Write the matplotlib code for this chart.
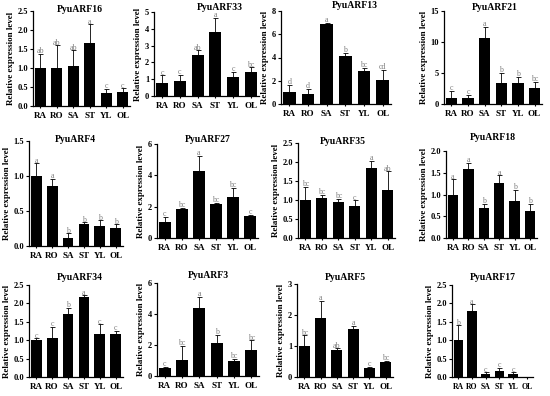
import matplotlib
matplotlib.use("Agg")
import matplotlib.pyplot as plt
import numpy as np

plt.rcParams['font.family'] = ['Liberation Serif', 'DejaVu Serif']
plt.rcParams['font.weight'] = 'bold'

tissues = ["RA", "RO", "SA", "ST", "YL", "OL"]

genes = ["PyuARF16", "PyuARF33", "PyuARF13", "PyuARF21",
         "PyuARF4", "PyuARF27", "PyuARF35", "PyuARF18",
         "PyuARF34", "PyuARF3", "PyuARF5", "PyuARF17"]

arf16 = [1.0, 1.0, 1.05, 1.65, 0.35, 0.37]
arf16_err = [0.37, 0.6, 0.42, 0.5, 0.1, 0.1]
arf16_let = ["ab", "ab", "ab", "a", "c", "c"]

arf33 = [0.78, 0.92, 2.47, 3.78, 1.15, 1.45]
arf33_err = [0.45, 0.35, 0.25, 0.85, 0.3, 0.25]
arf33_let = ["c", "c", "ab", "a", "c", "bc"]

arf13 = [1.0, 0.9, 6.9, 4.1, 2.8, 2.1]
arf13_err = [0.65, 0.4, 0.1, 0.3, 0.3, 0.85]
arf13_let = ["d", "d", "a", "b", "bc", "cd"]

arf21 = [1.0, 1.0, 10.7, 3.4, 3.4, 2.6]
arf21_err = [1.1, 0.5, 1.8, 1.6, 1.0, 1.0]
arf21_let = ["c", "c", "a", "b", "b", "bc"]

arf4 = [1.0, 0.86, 0.11, 0.31, 0.29, 0.26]
arf4_err = [0.18, 0.1, 0.07, 0.03, 0.08, 0.05]
arf4_let = ["a", "a", "b", "b", "b", "b"]

arf27 = [1.0, 1.88, 4.25, 2.2, 2.6, 1.42]
arf27_err = [0.35, 0.05, 1.0, 0.05, 0.6, 0.05]
arf27_let = ["c", "bc", "a", "bc", "bc", "c"]

arf35 = [1.0, 1.06, 0.96, 0.84, 1.83, 1.26]
arf35_err = [0.35, 0.07, 0.07, 0.15, 0.2, 0.5]
arf35_let = ["bc", "bc", "bc", "c", "a", "ab"]

arf18 = [1.0, 1.58, 0.69, 1.26, 0.85, 0.63]
arf18_err = [0.35, 0.15, 0.1, 0.18, 0.25, 0.15]
arf18_let = ["a", "a", "b", "a", "b", "b"]

arf34 = [1.0, 1.07, 1.7, 2.17, 1.18, 1.16]
arf34_err = [0.05, 0.3, 0.18, 0.05, 0.25, 0.1]
arf34_let = ["c", "c", "b", "a", "c", "c"]

arf3 = [0.5, 1.05, 4.4, 2.15, 1.0, 1.7]
arf3_err = [0.1, 0.9, 0.7, 0.5, 0.1, 0.6]
arf3_let = ["c", "bc", "a", "b", "bc", "bc"]

arf5 = [1.0, 1.9, 0.87, 1.55, 0.28, 0.48]
arf5_err = [0.35, 0.55, 0.05, 0.1, 0.05, 0.05]
arf5_let = ["bc", "a", "ab", "a", "c", "bc"]

arf17 = [1.0, 1.78, 0.08, 0.17, 0.08, 0.0]
arf17_err = [0.4, 0.2, 0.05, 0.08, 0.05, 0.0]
arf17_let = ["b", "a", "c", "c", "c", ""]

values = [arf16, arf33, arf13, arf21, arf4, arf27, arf35, arf18, arf34, arf3, arf5, arf17]
errors = [arf16_err, arf33_err, arf13_err, arf21_err, arf4_err, arf27_err,
          arf35_err, arf18_err, arf34_err, arf3_err, arf5_err, arf17_err]
letters = [arf16_let, arf33_let, arf13_let, arf21_let, arf4_let, arf27_let,
           arf35_let, arf18_let, arf34_let, arf3_let, arf5_let, arf17_let]

ymax = [2.5, 5, 8, 15, 1.5, 6, 2.5, 2.0, 2.5, 6, 3, 2.5]
ystep = [0.5, 1, 2, 5, 0.5, 2, 0.5, 0.5, 0.5, 2, 1, 0.5]
decimals = [1, 0, 0, 0, 1, 0, 1, 1, 1, 0, 0, 1]

# pixel boxes: (left, y_of_zero, right, y_of_top)
boxes = [(33, 106, 130, 11), (154, 96, 259, 12), (281, 104, 391, 11), (444, 104, 542, 11),
         (29, 246, 123, 141), (157, 238, 258, 144), (298, 238, 395, 143), (446, 238, 537, 151),
         (29, 377, 123, 285), (157, 376, 259, 283), (297, 377, 393, 284), (452, 377, 533, 285)]
title_pos = [(80, 9), (220, 7), (355, 6), (495, 7),
             (75, 139), (208, 139), (343, 142), (493, 138),
             (80, 278), (208, 276), (345, 277), (493, 278)]

W, H = 550, 396
fig = plt.figure(figsize=(W / 100, H / 100), dpi=100)
x = np.arange(len(tissues))

for i in range(12):
    l, y0, r, yt = boxes[i]
    ax = fig.add_axes([l / W, 1 - y0 / H, (r - l) / W, (y0 - yt) / H])
    ax.bar(x, values[i], width=0.68, color="black", zorder=2)
    ax.errorbar(x, values[i], yerr=[np.zeros(6), errors[i]], fmt="none",
                ecolor="black", elinewidth=0.6, capsize=1.8, capthick=0.6, zorder=3)
    for xi, v, e, t in zip(x, values[i], errors[i], letters[i]):
        if t:
            ax.text(xi, v + e - ymax[i] * 0.015, t, ha="center", va="bottom",
                    fontsize=5.8, color="#808080", fontweight="normal", zorder=4)
    ax.set_xlim(-0.45, 5.45)
    ax.set_ylim(0, ymax[i])
    ticks = np.arange(0, ymax[i] + 1e-9, ystep[i])
    ax.set_yticks(ticks)
    ax.set_yticklabels([f"{t:.{decimals[i]}f}" for t in ticks], fontsize=6, fontweight="bold")
    ax.set_xticks(x)
    ax.set_xticklabels(tissues, fontsize=6.5 if i != 11 else 5.6, fontweight="bold")
    ax.tick_params(axis="y", length=2.5, width=0.8, pad=1)
    ax.tick_params(axis="x", length=1.5, width=0.8, pad=2.5)
    for s in ["top", "right"]:
        ax.spines[s].set_visible(False)
    for s in ["left", "bottom"]:
        ax.spines[s].set_linewidth(0.9)
    ax.set_ylabel("Relative expression level", fontsize=6.5, fontweight="bold", labelpad=2)
    tx, ty = title_pos[i]
    fig.text(tx / W, 1 - ty / H, genes[i], ha="center", va="center",
             fontsize=7, fontweight="bold")

fig.savefig("out.png", dpi=100)
